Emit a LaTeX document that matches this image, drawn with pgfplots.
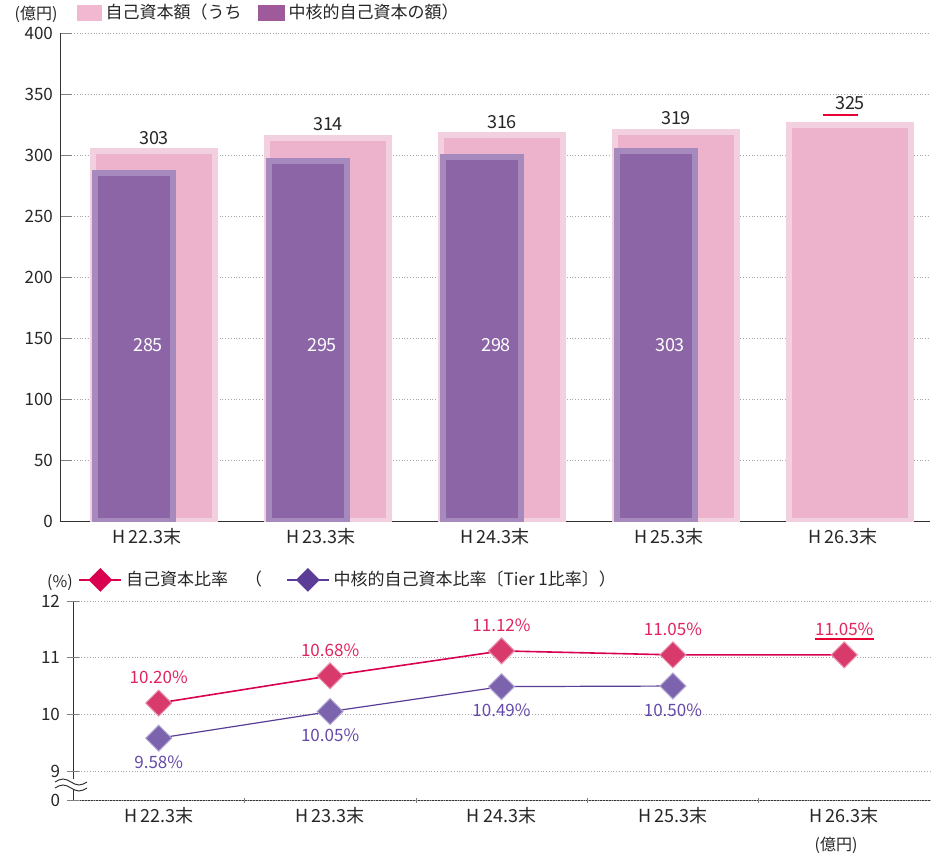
\documentclass[border=0pt]{standalone}
\usepackage{fontspec}
\setmainfont{Noto Sans CJK JP}
\usepackage{pgfplots}
\pgfplotsset{compat=1.18}

\definecolor{pinkbar}{HTML}{EDB3CC}
\definecolor{pinkedge}{HTML}{F3D0DF}
\definecolor{purplebar}{HTML}{8B65A6}
\definecolor{purpleedge}{HTML}{A68ABD}
\definecolor{pinkleg}{HTML}{F2B8D1}
\definecolor{purpleleg}{HTML}{9E5A9B}
\definecolor{redline}{HTML}{D8004F}
\definecolor{redmark}{HTML}{D93A6C}
\definecolor{redtxt}{HTML}{E0245F}
\definecolor{purpline}{HTML}{5B3D98}
\definecolor{purpmark}{HTML}{7B63AE}
\definecolor{purptxt}{HTML}{6549AA}
\definecolor{ulred}{HTML}{E60033}

\begin{document}
\begin{tikzpicture}[font=\fontsize{8.5}{10}\selectfont]
\path[use as bounding box] (0pt,0pt) rectangle (469.5pt,-428pt);

% upper chart: capital amounts
\begin{axis}[
  at={(30pt,-260.5pt)}, anchor=south west,
  scale only axis, width=435pt, height=244pt,
  ybar,
  xmin=-0.5, xmax=4.5, ymin=0, ymax=400,
  ytick={0,50,...,400},
  xtick={0,...,4},
  xticklabels={H\,22.3末,H\,23.3末,H\,24.3末,H\,25.3末,H\,26.3末},
  xtick style={draw=none},
  axis x line=bottom, axis y line=left, axis line style={-, black!80},
  tick align=inside, major tick length=6pt,
  ymajorgrids, grid style={densely dotted, black!35},
  /pgf/number format/assume math mode=true,
  tick label style={font=\fontsize{8.5}{10}\selectfont, text=black!85},
  xticklabel style={font=\fontsize{9}{10}\selectfont},
  legend style={at={(axis description cs:0.019,1.042)}, anchor=west,
    draw=none, fill=none, legend columns=2, inner sep=0pt,
    font=\fontsize{8.5}{10}\selectfont, text=black!85,
    /tikz/every even column/.append style={column sep=6pt}},
]
\addlegendimage{legend image code/.code={\fill[pinkleg] (0pt,-3.75pt) rectangle (12pt,3.75pt);}}
\addlegendentry{自己資本額（うち}
\addlegendimage{legend image code/.code={\fill[purpleleg] (0pt,-3.75pt) rectangle (13pt,3.75pt);}}
\addlegendentry{中核的自己資本の額）}
\addplot[bar width=61pt, bar shift=3.5pt, fill=pinkbar, draw=pinkedge, line width=3pt,
  visualization depends on={x \as \rawx},
  nodes near coords,
  every node near coord/.append style={font=\fontsize{9}{10}\selectfont, text=black!85, line width=0.4pt, yshift={(\rawx>3.5)*4pt}}]
  coordinates {(0,303) (1,314) (2,316) (3,319) (4,325)};
\addplot[bar width=39pt, bar shift=-6.5pt, fill=purplebar, draw=purpleedge, line width=3pt,
  visualization depends on={y \as \rawy},
  nodes near coords,
  every node near coord/.append style={anchor=center, text=white, font=\fontsize{9}{10}\selectfont, xshift=7pt, yshift={(144-\rawy)*0.61pt}}]
  coordinates {(0,285) (1,295) (2,298) (3,303)};
\end{axis}

% lower chart: ratios
\begin{axis}[
  at={(36.5pt,-400pt)}, anchor=south west,
  scale only axis, width=428.5pt, height=99.5pt,
  xmin=-0.5, xmax=4.5, ymin=8.49, ymax=12,
  major tick length=0pt, tick align=inside,
  xtick={0,...,4},
  xticklabels={H\,22.3末,H\,23.3末,H\,24.3末,H\,25.3末,H\,26.3末},
  ytick=\empty,
  extra x ticks={0.5,1.5,2.5,3.5}, extra x tick labels={},
  extra x tick style={major tick length=2.5pt},
  extra y ticks={8.49,9,10,11,12}, extra y tick labels={0,9,10,11,12},
  extra y tick style={major tick length=6pt, grid=major},
  grid style={densely dotted, black!35},
  axis x line=bottom, axis y line=left, axis line style={-, black!80},
  /pgf/number format/assume math mode=true,
  tick label style={font=\fontsize{8.5}{10}\selectfont, text=black!85},
  xticklabel style={font=\fontsize{9}{10}\selectfont},
  clip=false,
  legend image code/.code={\draw[mark repeat=2,mark phase=2,#1] plot coordinates {(0pt,0pt) (10.5pt,0pt) (21pt,0pt)};},
  legend style={at={(axis description cs:0.006,1.106)}, anchor=west,
    draw=none, fill=none, legend columns=2, inner sep=0pt,
    font=\fontsize{8.5}{10}\selectfont, text=black!85,
    /tikz/every even column/.append style={column sep=10pt}},
]
\addlegendimage{redline, line width=0.8pt, mark=square*, mark size=3.8pt, mark options={rotate=45, fill=redline}}
\addlegendentry{自己資本比率　（}
\addlegendimage{purpline, line width=0.8pt, mark=square*, mark size=3.8pt, mark options={rotate=45, fill=purpline}}
\addlegendentry{中核的自己資本比率〔Tier 1比率〕）}
\addplot[redline, line width=0.8pt, mark=square*, mark size=4.6pt,
  mark options={rotate=45, fill=redmark, draw=redmark!55!white, line width=0.5pt},
  nodes near coords, point meta=explicit symbolic,
  every node near coord/.append style={anchor=center, yshift=13pt, text=redtxt, font=\fontsize{8.5}{10}\selectfont}]
  coordinates {(0,10.20) [10.20\%] (1,10.68) [10.68\%] (2,11.12) [11.12\%] (3,11.05) [11.05\%] (4,11.05) [11.05\%]};
\addplot[purpline, line width=0.6pt, mark=square*, mark size=4.6pt,
  mark options={rotate=45, fill=purpmark, draw=purpmark!55!white, line width=0.5pt},
  nodes near coords, point meta=explicit symbolic,
  every node near coord/.append style={anchor=center, yshift=-12pt, text=purptxt, font=\fontsize{8.5}{10}\selectfont}]
  coordinates {(0,9.58) [9.58\%] (1,10.05) [10.05\%] (2,10.49) [10.49\%] (3,10.50) [10.50\%]};
\end{axis}

% annotations in pixel units
\begin{scope}[x=0.5pt, y=-0.5pt]
  \node[text=black!85, font=\fontsize{8}{9}\selectfont] at (36,14) {(億円)};
  \node[text=black!85, font=\fontsize{8}{9}\selectfont] at (60,583) {(\%)};
  \node[text=black!85, font=\fontsize{8}{9}\selectfont] at (836,845) {(億円)};
  \draw[ulred, line width=1pt] (823,115) -- (858,115);
  \draw[ulred, line width=1pt] (815,639) -- (874,639);
  \fill[white] (54,779) rectangle (90,790);
  \draw[black!80, line width=0.5pt] (55,782) sin (63,779) cos (71,782) sin (79,785) cos (87,782);
  \draw[black!80, line width=0.5pt] (55,788) sin (63,785) cos (71,788) sin (79,791) cos (87,788);
\end{scope}
\end{tikzpicture}
\end{document}
